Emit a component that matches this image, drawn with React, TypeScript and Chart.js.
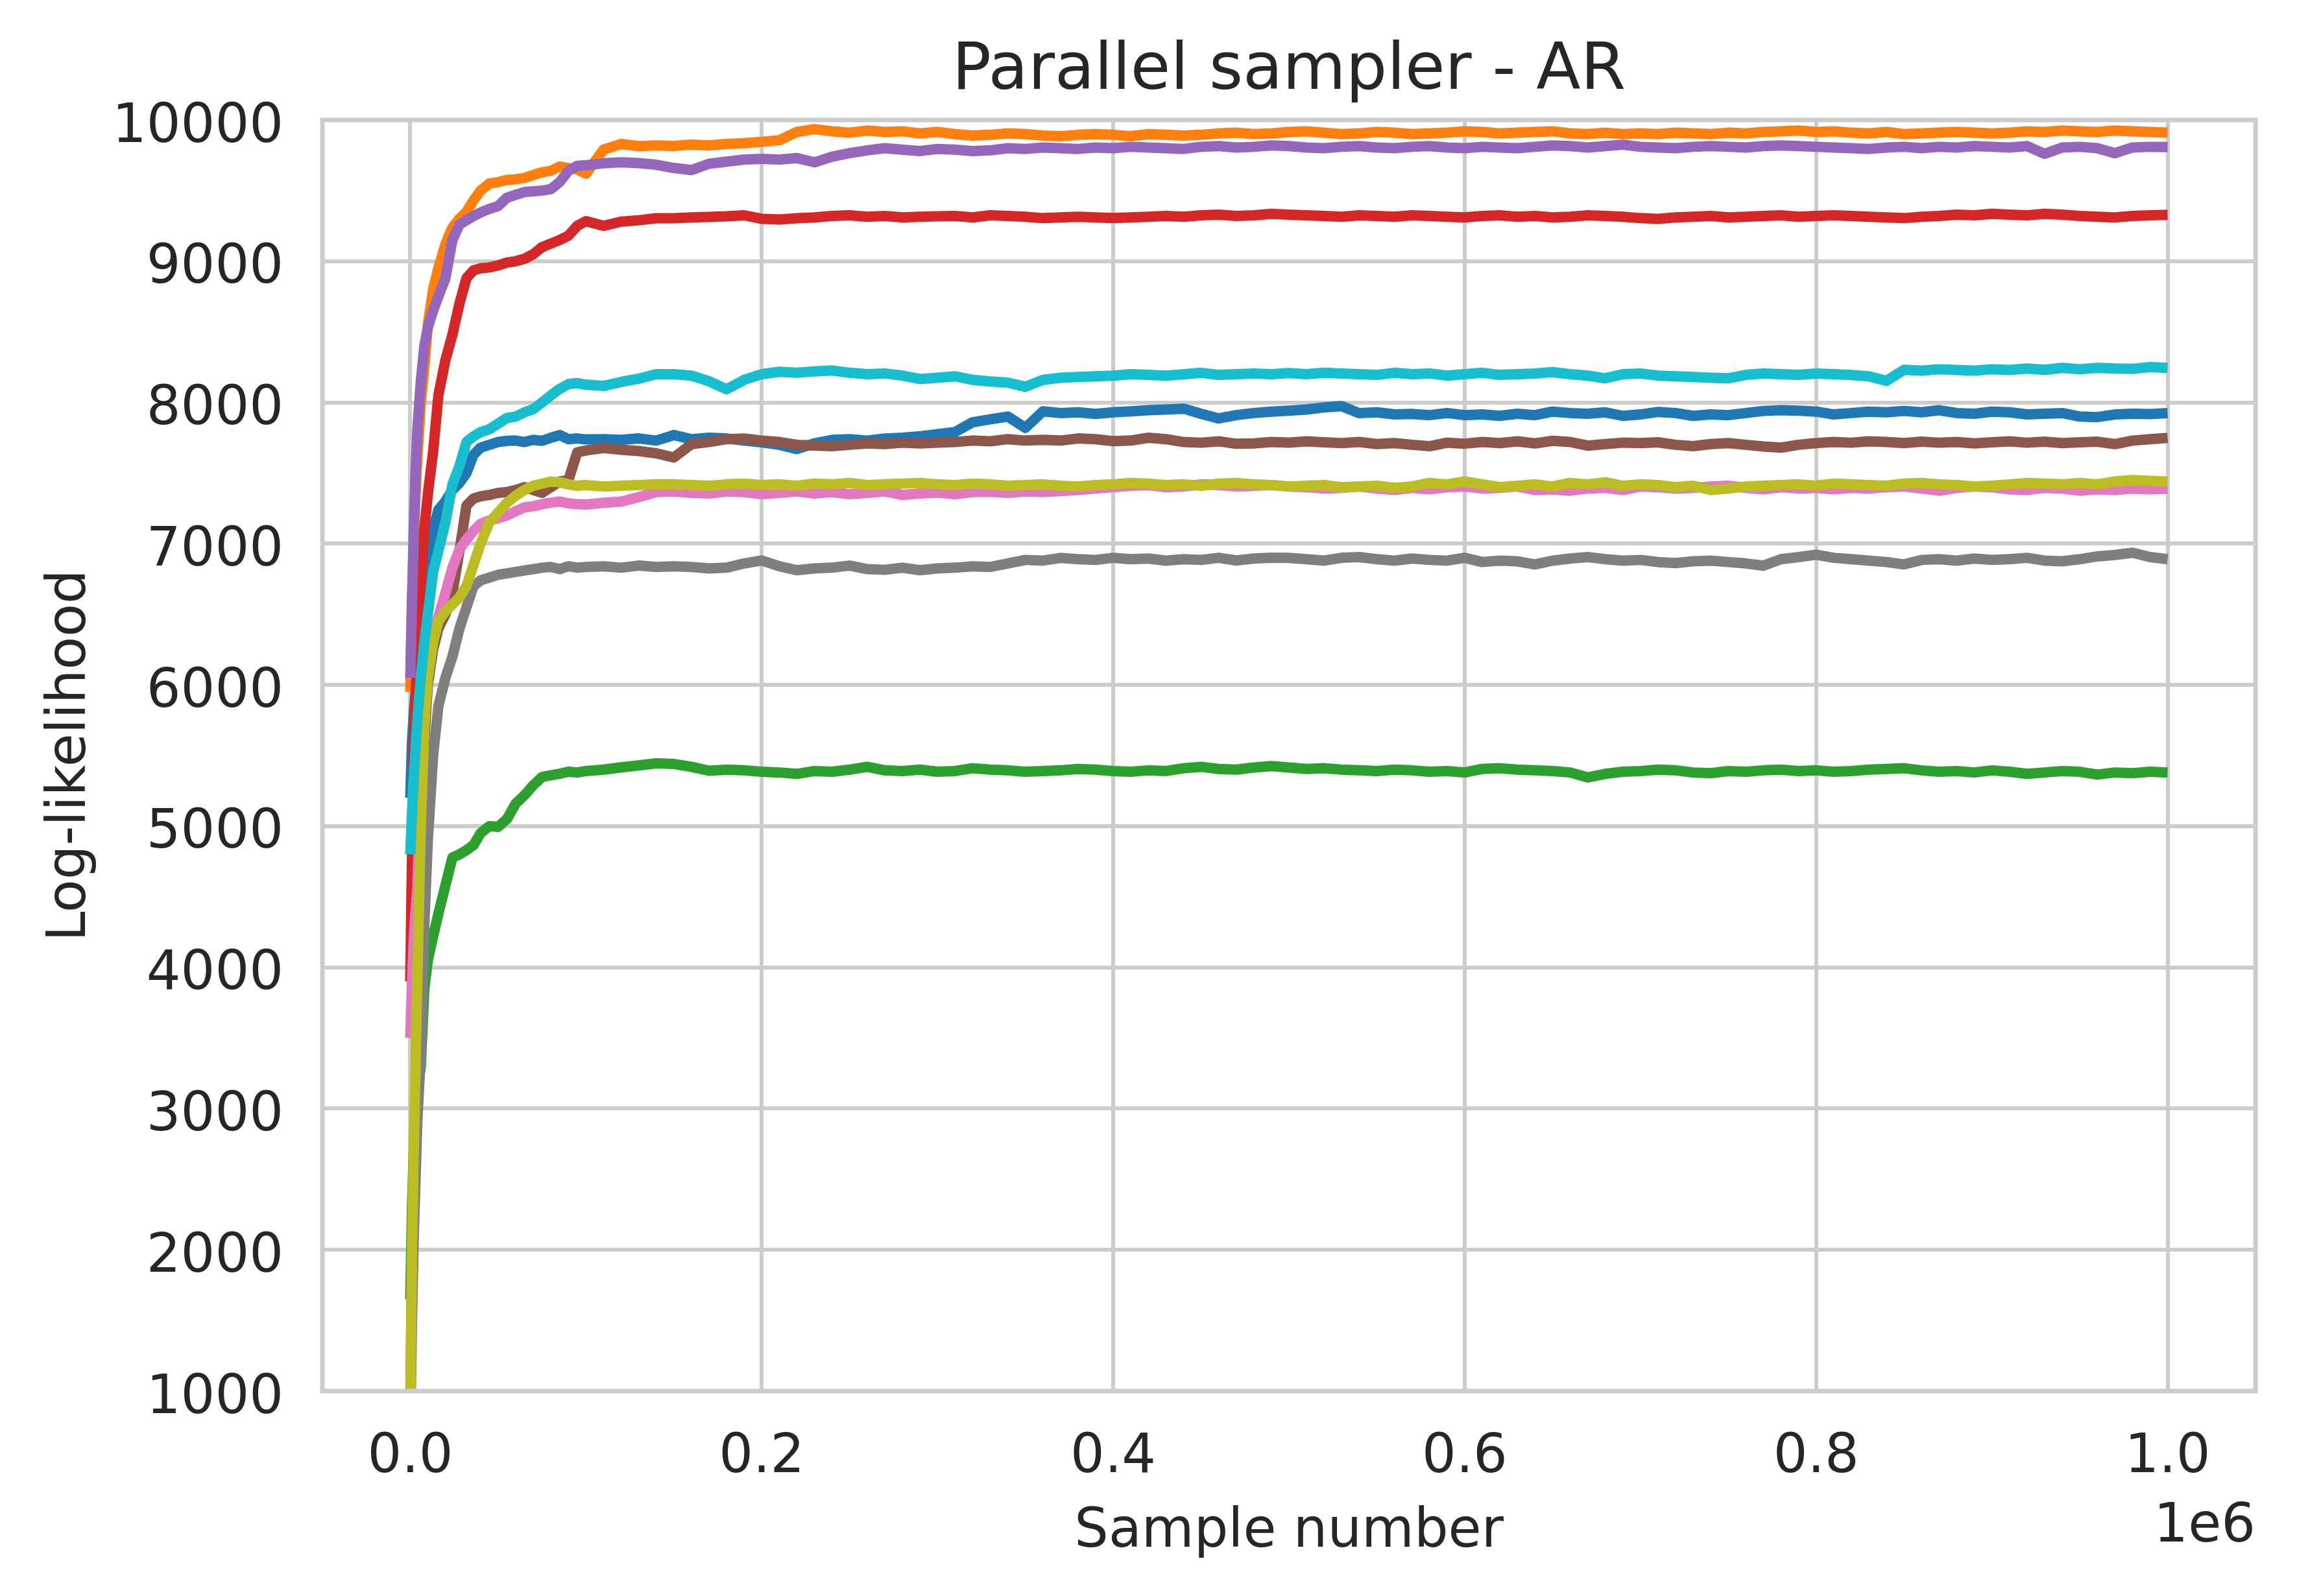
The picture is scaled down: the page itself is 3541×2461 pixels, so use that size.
import React, { useEffect, useRef } from "react";
import { Chart, registerables } from "chart.js";

Chart.register(...registerables);

const TITLE = "Parallel sampler - AR";
const X_LABEL = "Sample number";
const Y_LABEL = "Log-likelihood";
const X_OFFSET_TEXT = "1e6";
const X_TICKS = [0, 200000, 400000, 600000, 800000, 1000000];
const Y_TICKS = [1000, 2000, 3000, 4000, 5000, 6000, 7000, 8000, 9000, 10000];

const SAMPLE_X = [
  0, 1000, 2000, 3000, 4000, 6000, 8000, 10000, 13000, 16000,
  20000, 24000, 28000, 32000, 36000, 40000, 45000, 50000, 55000, 60000,
  65000, 70000, 75000, 80000, 85000, 90000, 95000, 100000, 110000, 120000,
  130000, 140000,
  150000, 160000, 170000, 180000, 190000, 200000, 210000, 220000, 230000, 240000,
  250000, 260000, 270000, 280000, 290000, 300000, 310000, 320000, 330000, 340000,
  350000, 360000, 370000, 380000, 390000, 400000, 410000, 420000, 430000, 440000,
  450000, 460000, 470000, 480000, 490000, 500000, 510000, 520000, 530000, 540000,
  550000, 560000, 570000, 580000, 590000, 600000, 610000, 620000, 630000, 640000,
  650000, 660000, 670000, 680000, 690000, 700000, 710000, 720000, 730000, 740000,
  750000, 760000, 770000, 780000, 790000, 800000, 810000, 820000, 830000, 840000,
  850000, 860000, 870000, 880000, 890000, 900000, 910000, 920000, 930000, 940000,
  950000, 960000, 970000, 980000, 990000, 1000000,
];

const BLUE = [
  5200, 5600, 5800, 5950, 6100, 6350, 6520, 6750, 7100, 7240,
  7300, 7380, 7430, 7500, 7630, 7680, 7700, 7720, 7728, 7730,
  7720, 7735, 7728, 7750, 7769, 7740, 7745, 7738, 7740, 7735,
  7745, 7730,
  7769, 7740, 7750, 7745, 7730, 7718, 7700, 7670, 7710, 7735,
  7740, 7730, 7744, 7750, 7760, 7776, 7790, 7860, 7880, 7900,
  7820, 7937, 7925, 7930, 7919, 7930, 7937, 7945, 7950, 7956,
  7920, 7887, 7910, 7925, 7935, 7942, 7950, 7965, 7974, 7924,
  7930, 7915, 7919, 7910, 7925, 7910, 7915, 7905, 7920, 7910,
  7935, 7925, 7920, 7930, 7905, 7915, 7933, 7925, 7905, 7915,
  7910, 7925, 7940, 7945, 7942, 7935, 7915, 7925, 7935, 7930,
  7940, 7930, 7945, 7925, 7920, 7935, 7930, 7915, 7920, 7925,
  7900, 7896, 7915, 7920, 7918, 7924,
];

const ORANGE = [
  5950, 6600, 7000, 7350, 7600, 8000, 8250, 8550, 8800, 8950,
  9120, 9240, 9300, 9350, 9430, 9500, 9550, 9560, 9575, 9580,
  9590, 9610, 9630, 9640, 9670, 9660, 9650, 9620, 9790, 9830,
  9815, 9820,
  9816, 9826, 9820, 9830, 9836, 9845, 9857, 9915, 9935, 9920,
  9910, 9925, 9915, 9920, 9905, 9915, 9900, 9890, 9895, 9905,
  9900, 9890, 9885, 9895, 9900, 9895, 9885, 9900, 9895, 9890,
  9895, 9905, 9910, 9900, 9905, 9915, 9920, 9910, 9900, 9905,
  9915, 9910, 9900, 9905, 9910, 9920, 9915, 9905, 9910, 9915,
  9920, 9905, 9900, 9910, 9900, 9905, 9900, 9910, 9905, 9900,
  9910, 9905, 9915, 9920, 9925, 9915, 9920, 9910, 9905, 9915,
  9900, 9905, 9910, 9915, 9910, 9905, 9910, 9920, 9915, 9925,
  9920, 9915, 9925, 9920, 9915, 9910,
];

const GREEN = [
  1650, 2300, 2700, 2950, 3100, 3300, 3850, 4050, 4220, 4380,
  4580, 4778, 4800, 4830, 4866, 4950, 5000, 4995, 5050, 5160,
  5219, 5290, 5348, 5360, 5371, 5385, 5380, 5390, 5400, 5416,
  5430, 5445,
  5440, 5420, 5392, 5400, 5395, 5385, 5380, 5370, 5390, 5385,
  5400, 5420, 5395, 5390, 5400, 5385, 5390, 5410, 5400, 5395,
  5385, 5390, 5395, 5405, 5400, 5390, 5385, 5395, 5390, 5410,
  5420, 5405, 5400, 5415, 5425, 5415, 5405, 5410, 5400, 5395,
  5390, 5400, 5395, 5385, 5390, 5380, 5405, 5410, 5400, 5395,
  5390, 5380, 5345, 5370, 5385, 5390, 5400, 5395, 5380, 5375,
  5390, 5385, 5395, 5400, 5390, 5395, 5385, 5390, 5400, 5405,
  5410, 5395, 5385, 5390, 5380, 5395, 5385, 5370, 5380, 5390,
  5385, 5365, 5380, 5375, 5385, 5380,
];

const RED = [
  3900, 4800, 5500, 5900, 6200, 6700, 7100, 7350, 7650, 8050,
  8300, 8480, 8700, 8880, 8935, 8950, 8956, 8970, 8990, 9000,
  9017, 9050, 9100, 9125, 9150, 9181, 9250, 9284, 9250, 9280,
  9290, 9304,
  9304, 9310, 9314, 9318, 9325, 9300, 9295, 9304, 9310, 9320,
  9325, 9315, 9320, 9310, 9315, 9318, 9320, 9310, 9325, 9320,
  9315, 9305, 9310, 9315, 9310, 9305, 9310, 9315, 9320, 9315,
  9325, 9330, 9320, 9325, 9335, 9330, 9325, 9320, 9315, 9325,
  9320, 9315, 9325, 9320, 9315, 9310, 9320, 9325, 9315, 9320,
  9310, 9315, 9325, 9320, 9315, 9305, 9300, 9310, 9315, 9320,
  9310, 9315, 9320, 9325, 9315, 9320, 9325, 9320, 9315, 9310,
  9305, 9315, 9320, 9330, 9325, 9335, 9330, 9325, 9335, 9330,
  9320, 9315, 9310, 9320, 9325, 9328,
];

const PURPLE = [
  6050, 6600, 7093, 7500, 7800, 8150, 8400, 8530, 8650, 8750,
  8880, 9150, 9260, 9290, 9320, 9345, 9370, 9390, 9450, 9470,
  9490, 9495, 9500, 9510, 9560, 9640, 9675, 9680, 9693, 9700,
  9695, 9683,
  9660, 9645, 9690, 9705, 9720, 9725, 9720, 9730, 9700, 9740,
  9765, 9785, 9800, 9790, 9780, 9795, 9790, 9780, 9785, 9800,
  9795, 9805, 9800, 9795, 9805, 9800, 9810, 9805, 9800, 9795,
  9810, 9815, 9805, 9810, 9820, 9815, 9805, 9800, 9810, 9815,
  9805, 9800, 9810, 9815, 9805, 9800, 9810, 9805, 9800, 9810,
  9820, 9815, 9805, 9815, 9825, 9810, 9805, 9800, 9810, 9815,
  9810, 9805, 9815, 9820, 9815, 9810, 9805, 9800, 9795, 9805,
  9810, 9800, 9810, 9805, 9815, 9810, 9805, 9815, 9760, 9805,
  9810, 9800, 9765, 9805, 9810, 9808,
];

const BROWN = [
  900, 1900, 2600, 3200, 3800, 4900, 5600, 6000, 6250, 6400,
  6500, 6650, 6950, 7270, 7320, 7335, 7345, 7360, 7365, 7380,
  7400, 7380, 7360, 7400, 7440, 7450, 7646, 7660, 7677, 7665,
  7656, 7640,
  7610, 7705, 7720, 7740, 7744, 7730, 7720, 7700, 7695, 7690,
  7700, 7710, 7705, 7715, 7710, 7716, 7720, 7730, 7725, 7740,
  7730, 7735, 7730, 7745, 7740, 7726, 7730, 7750, 7740, 7720,
  7715, 7725, 7707, 7710, 7720, 7716, 7725, 7718, 7712, 7720,
  7705, 7712, 7700, 7690, 7715, 7708, 7720, 7712, 7725, 7710,
  7728, 7720, 7694, 7705, 7715, 7712, 7718, 7700, 7690, 7705,
  7712, 7700, 7688, 7680, 7700, 7712, 7720, 7715, 7725, 7720,
  7712, 7722, 7715, 7720, 7710, 7718, 7725, 7715, 7722, 7712,
  7718, 7722, 7705, 7730, 7740, 7749,
];

const PINK = [
  3500, 3900, 4200, 4400, 4550, 5350, 5800, 6150, 6350, 6480,
  6650, 6830, 6960, 7030, 7090, 7140, 7165, 7180, 7200, 7230,
  7257, 7265, 7280, 7290, 7298, 7285, 7280, 7277, 7290, 7298,
  7330, 7365,
  7370, 7360, 7355, 7370, 7365, 7350, 7360, 7370, 7355, 7365,
  7350, 7360, 7370, 7345, 7355, 7362, 7350, 7365, 7368, 7360,
  7370, 7365, 7372, 7380, 7390, 7400, 7410, 7415, 7400, 7405,
  7420, 7415, 7405, 7410, 7415, 7405, 7400, 7390, 7395, 7405,
  7390, 7380, 7395, 7385, 7400, 7405, 7390, 7395, 7405, 7380,
  7385, 7375, 7390, 7395, 7380, 7405, 7400, 7390, 7395, 7405,
  7410, 7395, 7385, 7400, 7390, 7395, 7385, 7395, 7390, 7400,
  7405, 7390, 7375, 7395, 7405, 7400, 7385, 7380, 7395, 7390,
  7375, 7385, 7380, 7390, 7385, 7390,
];

const GRAY = [
  700, 1500, 2100, 2500, 2900, 3400, 4300, 4900, 5500, 5850,
  6050, 6200, 6400, 6550, 6700, 6740, 6760, 6780, 6790, 6800,
  6810, 6820, 6830, 6835, 6820, 6840, 6830, 6835, 6840, 6830,
  6845, 6835,
  6840, 6835, 6825, 6830, 6860, 6881, 6840, 6812, 6825, 6830,
  6845, 6820, 6815, 6830, 6812, 6825, 6830, 6840, 6835, 6860,
  6885, 6880, 6899, 6890, 6885, 6900, 6890, 6895, 6880, 6890,
  6885, 6900, 6881, 6895, 6900, 6899, 6890, 6880, 6900, 6905,
  6890, 6880, 6895, 6885, 6880, 6900, 6870, 6880, 6875, 6853,
  6880, 6895, 6905, 6890, 6880, 6885, 6870, 6863, 6875, 6880,
  6870, 6860, 6844, 6890, 6905, 6922, 6900, 6890, 6880, 6870,
  6853, 6885, 6890, 6880, 6895, 6885, 6890, 6900, 6880, 6875,
  6890, 6910, 6920, 6936, 6905, 6890,
];

const OLIVE = [
  800, 2000, 2700, 3300, 3900, 5000, 5700, 6050, 6300, 6450,
  6520, 6570, 6620, 6700, 6850, 7000, 7150, 7220, 7290, 7340,
  7380, 7410, 7425, 7440, 7435, 7420, 7410, 7415, 7405, 7410,
  7415, 7420,
  7420, 7415, 7410, 7420, 7425, 7415, 7420, 7410, 7425, 7420,
  7430, 7415, 7420, 7425, 7430, 7420, 7415, 7425, 7420, 7410,
  7415, 7420, 7410, 7405, 7415, 7420, 7430, 7425, 7415, 7420,
  7410, 7425, 7430, 7420, 7415, 7405, 7410, 7415, 7400, 7405,
  7410, 7395, 7405, 7430, 7420, 7440, 7420, 7400, 7410, 7420,
  7405, 7430, 7420, 7435, 7410, 7420, 7415, 7400, 7410, 7380,
  7390, 7405, 7410, 7415, 7420, 7410, 7425, 7420, 7415, 7410,
  7425, 7430, 7420, 7415, 7405, 7410, 7420, 7430, 7425, 7420,
  7430, 7420, 7440, 7450, 7445, 7440,
];

const CYAN = [
  4800, 5100, 5350, 5550, 5750, 6050, 6300, 6500, 6800, 6950,
  7150, 7420, 7550, 7720, 7760, 7790, 7810, 7850, 7890, 7900,
  7930, 7953, 8000, 8050, 8096, 8130, 8137, 8125, 8117, 8145,
  8168, 8200,
  8200, 8190, 8150, 8093, 8160, 8200, 8217, 8210, 8220, 8226,
  8210, 8200, 8205, 8190, 8166, 8175, 8185, 8160, 8148, 8140,
  8111, 8160, 8175, 8180, 8185, 8190, 8200, 8195, 8190, 8199,
  8210, 8195, 8200, 8205, 8200, 8208, 8200, 8210, 8205, 8200,
  8195, 8210, 8200, 8205, 8190, 8200, 8210, 8195, 8200, 8205,
  8215, 8200, 8190, 8171, 8200, 8205, 8190, 8185, 8180, 8175,
  8171, 8195, 8205, 8200, 8195, 8205, 8200, 8194, 8185, 8153,
  8231, 8225, 8235, 8230, 8225, 8235, 8230, 8240, 8231, 8245,
  8235, 8245, 8240, 8238, 8250, 8245,
];

const SERIES = [BLUE, ORANGE, GREEN, RED, PURPLE, BROWN, PINK, GRAY, OLIVE, CYAN];
const SERIES_NAMES = ["chain 0", "chain 1", "chain 2", "chain 3", "chain 4", "chain 5", "chain 6", "chain 7", "chain 8", "chain 9"];
const COLORS = ["#1f77b4", "#ff7f0e", "#2ca02c", "#d62728", "#9467bd", "#8c564b", "#e377c2", "#7f7f7f", "#bcbd22", "#17becf"];

const FONT_FAMILY = "'DejaVu Sans', 'Liberation Sans', sans-serif";
const TEXT_COLOR = "#262626";
const GRID_COLOR = "#cccccc";

const W = 3541;
const H = 2461;

const framePlugin = {
  id: "frameAndOffset",
  afterDatasetsDraw(chart: any) {
    const { ctx, chartArea } = chart;
    const { left, top, right, bottom } = chartArea;
    ctx.save();
    ctx.strokeStyle = GRID_COLOR;
    ctx.lineWidth = 7;
    ctx.strokeRect(left, top, right - left, bottom - top);
    ctx.restore();
  },
  afterDraw(chart: any) {
    const { ctx, chartArea } = chart;
    ctx.save();
    ctx.fillStyle = TEXT_COLOR;
    ctx.font = `83px ${FONT_FAMILY}`;
    ctx.textAlign = "right";
    ctx.textBaseline = "alphabetic";
    ctx.fillText(X_OFFSET_TEXT, chartArea.right, chartArea.bottom + 232);
    ctx.restore();
  },
};

export default function App() {
  const canvasRef = useRef<HTMLCanvasElement | null>(null);

  useEffect(() => {
    const canvas = canvasRef.current;
    if (!canvas) return;
    const datasets = SERIES.map((vals, idx) => ({
      label: SERIES_NAMES[idx],
      data: SAMPLE_X.map((x, i) => ({ x, y: vals[i] })),
      borderColor: COLORS[idx],
      backgroundColor: COLORS[idx],
      borderWidth: 16,
      pointRadius: 0,
      pointHoverRadius: 0,
      fill: false,
      tension: 0,
      borderJoinStyle: "round" as const,
      borderCapStyle: "butt" as const,
      order: SERIES.length - idx,
      clip: 0,
    }));

    const tickFont = { family: FONT_FAMILY, size: 83 };

    const chart = new Chart(canvas, {
      type: "line",
      data: { datasets },
      plugins: [framePlugin],
      options: {
        responsive: false,
        animation: false,
        devicePixelRatio: 1,
        layout: { padding: { left: 0, right: 64, top: 0, bottom: 0 } },
        plugins: {
          legend: { display: false },
          tooltip: { enabled: false },
          title: {
            display: true,
            fullSize: false,
            text: TITLE,
            color: TEXT_COLOR,
            font: { family: FONT_FAMILY, size: 100, weight: "normal" },
            padding: { top: 51, bottom: 14 },
          },
        },
        scales: {
          x: {
            type: "linear",
            min: -50000,
            max: 1050000,
            afterBuildTicks: (scale: any) => {
              scale.ticks = X_TICKS.map((v) => ({ value: v }));
            },
            afterFit: (scale: any) => {
              scale.height = 316;
            },
            ticks: {
              autoSkip: false,
              maxRotation: 0,
              minRotation: 0,
              padding: 54,
              color: TEXT_COLOR,
              font: tickFont,
              callback: (v: any) => (Number(v) / 1e6).toFixed(1),
            },
            grid: { color: GRID_COLOR, lineWidth: 6, drawTicks: false },
            border: { display: false },
            title: {
              display: true,
              text: X_LABEL,
              color: TEXT_COLOR,
              font: tickFont,
              padding: { top: 0, bottom: 48 },
            },
          },
          y: {
            type: "linear",
            min: 1000,
            max: 10000,
            afterBuildTicks: (scale: any) => {
              scale.ticks = Y_TICKS.map((v) => ({ value: v }));
            },
            afterFit: (scale: any) => {
              scale.width = 497;
            },
            ticks: {
              autoSkip: false,
              padding: 60,
              labelOffset: 12,
              color: TEXT_COLOR,
              font: tickFont,
              callback: (v: any) => String(v),
            },
            grid: { color: GRID_COLOR, lineWidth: 6, drawTicks: false },
            border: { display: false },
            title: {
              display: true,
              text: Y_LABEL,
              color: TEXT_COLOR,
              font: tickFont,
              padding: { top: 60, bottom: 0 },
            },
          },
        },
      },
    } as any);

    return () => {
      chart.destroy();
    };
  }, []);

  return (
    <div style={{ position: "fixed", left: 0, top: 0, width: W, height: H, background: "#ffffff" }}>
      <canvas ref={canvasRef} width={W} height={H} style={{ display: "block", width: W, height: H }} />
    </div>
  );
}
